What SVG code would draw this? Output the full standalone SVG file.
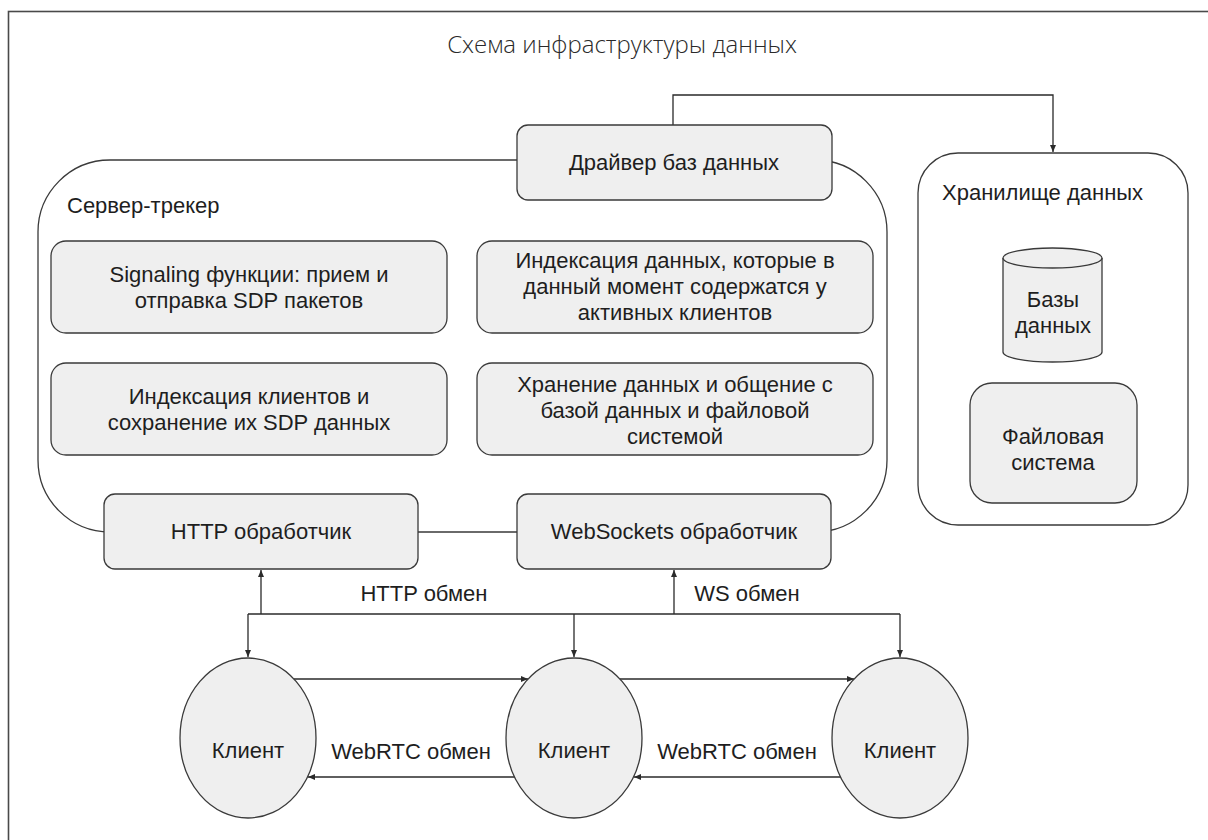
<svg xmlns="http://www.w3.org/2000/svg" width="1208" height="840" viewBox="0 0 1208 840">
<defs>
<style>
.box{fill:#efefef;stroke:#3a3a3a;stroke-width:1.3}
.cont{fill:#ffffff;stroke:#3a3a3a;stroke-width:1.3}
.t{font-family:"Liberation Sans",Arial,sans-serif;font-size:22px;fill:#1e1e1e}
.c{text-anchor:middle}
.ln{fill:none;stroke:#2a2a2a;stroke-width:1.3}
.title{font-family:"Open Sans","Noto Sans",sans-serif;font-size:24px;font-weight:300;fill:#2a2a2a;text-anchor:middle}
</style>
<marker id="ah" markerWidth="8" markerHeight="8" refX="7" refY="4" orient="auto" markerUnits="userSpaceOnUse">
<path d="M0,1 L7,4 L0,7 Z" fill="#2a2a2a"/>
</marker>
</defs>
<rect x="0" y="0" width="1208" height="840" fill="#ffffff"/>
<rect x="8.5" y="11.5" width="1220" height="850" fill="none" stroke="#4a4a4a" stroke-width="1.6"/>
<text class="title" x="622" y="53">Схема инфраструктуры данных</text>

<g id="server-tracker">
<rect class="cont" x="38" y="160" width="849" height="372" rx="72" ry="72"/>
<text class="t" x="67" y="213">Сервер-трекер</text>
</g>

<g id="storage">
<rect class="cont" x="918" y="153" width="270" height="372" rx="40" ry="40"/>
<text class="t" x="942" y="200">Хранилище данных</text>
</g>

<g id="connectors">
<path class="ln" d="M673,125 V95 H1053 V152" marker-end="url(#ah)"/>
<path class="ln" d="M261,614 V570" marker-end="url(#ah)"/>
<path class="ln" d="M674,614 V570" marker-end="url(#ah)"/>
<path class="ln" d="M248,614 H900"/>
<path class="ln" d="M248,614 V657" marker-end="url(#ah)"/>
<path class="ln" d="M574,614 V657" marker-end="url(#ah)"/>
<path class="ln" d="M900,614 V657" marker-end="url(#ah)"/>
<path class="ln" d="M294,679 H528" marker-end="url(#ah)"/>
<path class="ln" d="M516,777 H308" marker-end="url(#ah)"/>
<path class="ln" d="M620,679 H854" marker-end="url(#ah)"/>
<path class="ln" d="M842,777 H634" marker-end="url(#ah)"/>
<text class="t c" x="424" y="601">HTTP обмен</text>
<text class="t c" x="747" y="601">WS обмен</text>
<text class="t c" x="411" y="759">WebRTC обмен</text>
<text class="t c" x="737" y="759">WebRTC обмен</text>
</g>

<g id="driver">
<rect class="box" x="517" y="125" width="315" height="75" rx="11"/>
<text class="t c" x="674" y="170">Драйвер баз данных</text>
</g>

<g id="signaling">
<rect class="box" x="51" y="241" width="396" height="92" rx="15"/>
<text class="t c" x="249" y="282">Signaling функции: прием и</text>
<text class="t c" x="249" y="308">отправка SDP пакетов</text>
</g>

<g id="index-clients">
<rect class="box" x="51" y="363" width="396" height="92" rx="15"/>
<text class="t c" x="249" y="404">Индексация клиентов и</text>
<text class="t c" x="249" y="430">сохранение их SDP данных</text>
</g>

<g id="index-data">
<rect class="box" x="477" y="241" width="396" height="92" rx="15"/>
<text class="t c" x="675" y="268">Индексация данных, которые в</text>
<text class="t c" x="675" y="294">данный момент содержатся у</text>
<text class="t c" x="675" y="320">активных клиентов</text>
</g>

<g id="storage-comm">
<rect class="box" x="477" y="363" width="396" height="92" rx="15"/>
<text class="t c" x="675" y="392">Хранение данных и общение с</text>
<text class="t c" x="675" y="418">базой данных и файловой</text>
<text class="t c" x="675" y="444">системой</text>
</g>

<g id="http-handler">
<rect class="box" x="104" y="494" width="314" height="75" rx="11"/>
<text class="t c" x="261" y="539">HTTP обработчик</text>
</g>

<g id="ws-handler">
<rect class="box" x="517" y="494" width="314" height="75" rx="11"/>
<text class="t c" x="674" y="539">WebSockets обработчик</text>
</g>

<g id="databases">
<path class="box" d="M1003,258 V352 A49.5,10 0 0 0 1102,352 V258"/>
<ellipse class="box" cx="1052.5" cy="258" rx="49.5" ry="10"/>
<text class="t c" x="1053" y="307">Базы</text>
<text class="t c" x="1053" y="333">данных</text>
</g>

<g id="filesystem">
<rect class="box" x="970" y="383" width="167" height="120" rx="22"/>
<text class="t c" x="1053" y="444">Файловая</text>
<text class="t c" x="1053" y="470">система</text>
</g>

<g id="client1">
<ellipse class="box" cx="248" cy="738" rx="68" ry="80"/>
<text class="t c" x="248" y="758">Клиент</text>
</g>
<g id="client2">
<ellipse class="box" cx="574" cy="738" rx="68" ry="80"/>
<text class="t c" x="574" y="758">Клиент</text>
</g>
<g id="client3">
<ellipse class="box" cx="900" cy="738" rx="68" ry="80"/>
<text class="t c" x="900" y="758">Клиент</text>
</g>
</svg>
